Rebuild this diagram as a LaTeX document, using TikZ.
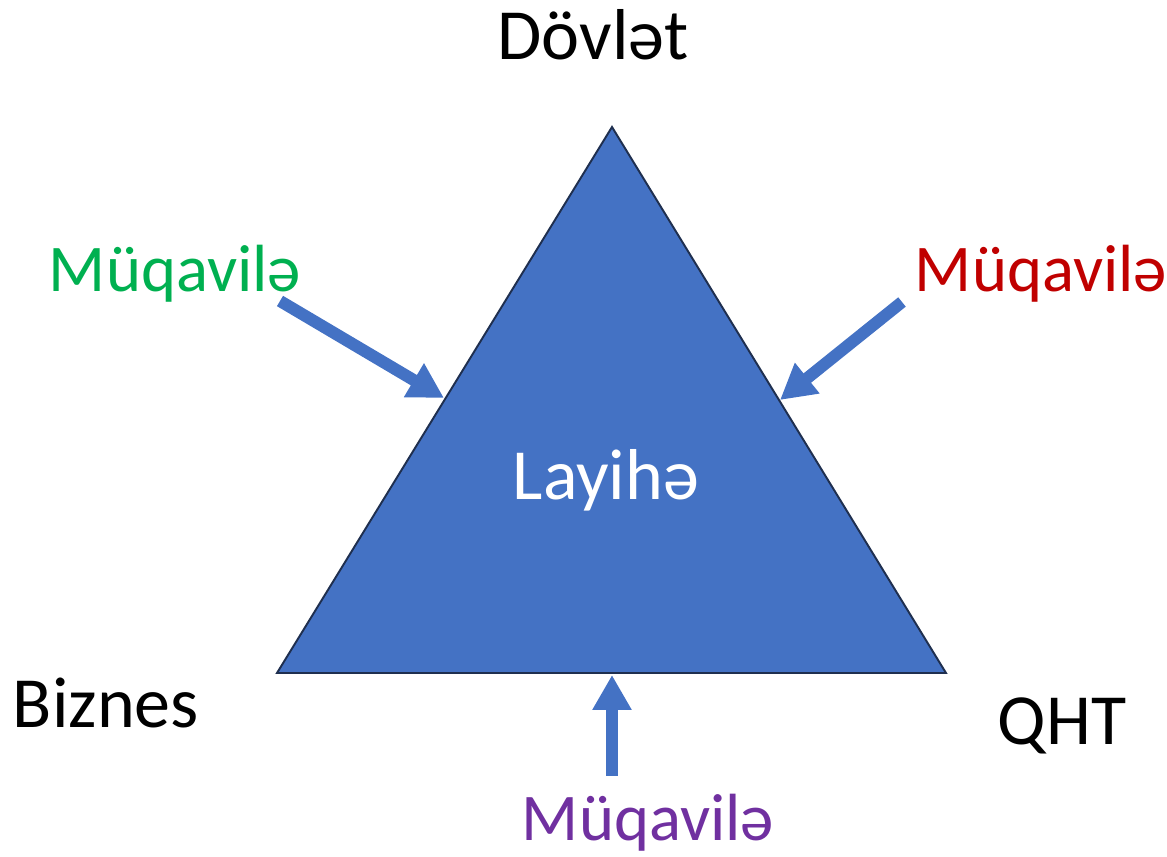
\documentclass[tikz,border=0pt]{standalone}
\usepackage{fontspec}
\setmainfont{Carlito}
\usetikzlibrary{arrows.meta}
\definecolor{tblue}{HTML}{4472C4}
\definecolor{tedge}{HTML}{1F2F4F}
\definecolor{tgreen}{HTML}{00B050}
\definecolor{tred}{HTML}{C00000}
\definecolor{tpurple}{HTML}{7030A0}
\tikzset{
  bigtext/.style={anchor=base, font=\fontsize{41}{49}\selectfont},
  deal/.style={anchor=base, font=\fontsize{38}{46}\selectfont},
  push/.style={draw=tblue, line width=0.24cm, -{Triangle[width=0.74cm,length=0.7cm]}}
}
\begin{document}
\begin{tikzpicture}[x=0.02cm, y=-0.02cm]
    \useasboundingbox (0,0) rectangle (1167,857);
    % uçbucaq
    \coordinate (D) at (612, 127);
    \coordinate (B) at (277, 673);
    \coordinate (Q) at (946, 673);
    \filldraw[fill=tblue, draw=tedge, line width=1.1pt, line join=miter] (D) -- (B) -- (Q) -- cycle;
    % tərəflər
    \node[bigtext] (dovlet) at (593, 60) {Dövlət};
    \node[bigtext] (biznes) at (106, 728) {Biznes};
    \node[bigtext] (qht) at (1062, 745) {QHT};
    \node[bigtext, text=white] (layihe) at (606, 500) {Layihə};
    % müqavilələr
    \node[deal, text=tgreen] (mgreen) at (175, 292) {Müqavilə};
    \node[deal, text=tred] (mred) at (1041, 292) {Müqavilə};
    \node[deal, text=tpurple] (mpurple) at (648, 841) {Müqavilə};
    % oxlar
    \coordinate (gtail) at (280, 301);
    \coordinate (gtip) at (444, 398);
    \coordinate (rtail) at (902, 302);
    \coordinate (rtip) at (780, 400);
    \coordinate (ptail) at (612, 776);
    \coordinate (ptip) at (612, 675);
    \draw[push] (gtail) -- (gtip);
    \draw[push] (rtail) -- (rtip);
    \draw[push] (ptail) -- (ptip);
\end{tikzpicture}
\end{document}
